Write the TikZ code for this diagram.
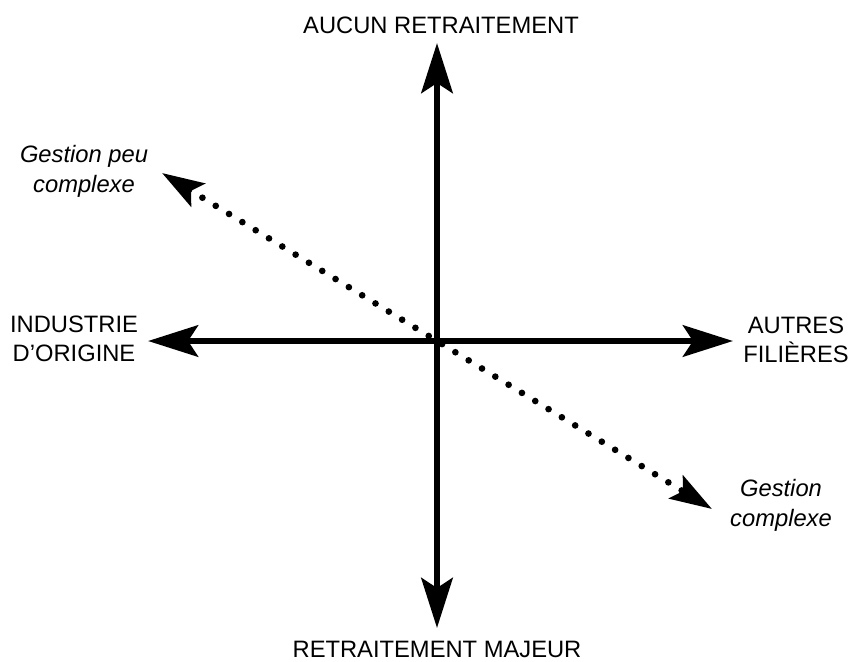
\documentclass[tikz,border=0pt]{standalone}
\usepackage{fontspec}
\setmainfont{Liberation Sans}
\usetikzlibrary{arrows.meta}
\begin{document}
\begin{tikzpicture}[x=0.75pt,y=-0.75pt,
  axis/.style={line width=4.9pt,
    {Stealth[length=37.5pt,width=23.5pt,inset=7.5pt]}-{Stealth[length=37.5pt,width=23.5pt,inset=7.5pt]}},
  dotline/.style={line width=5pt, line cap=round, dash pattern=on 0pt off 11.7pt,
    {Stealth[length=31.5pt,width=20pt,inset=6pt]}-{Stealth[length=31.5pt,width=20pt,inset=6pt]}},
  lbl/.style={font=\fontsize{17.8}{21.5}\selectfont, align=center, inner sep=0pt},
  ilbl/.style={font=\fontsize{17.8}{22.5}\selectfont\itshape, align=center, inner sep=0pt}]
\useasboundingbox (0,0) rectangle (853,661);
\coordinate (C) at (437,341);
\coordinate (N) at (437,43);
\coordinate (S) at (437,628);
\coordinate (W) at (148,341);
\coordinate (E) at (733,341);
\coordinate (DL) at (162,173);
\coordinate (DR) at (712,509);
\draw[axis] (N) -- (S);
\draw[axis] (W) -- (E);
\draw[dotline] (DL) -- (DR);
\node[lbl] (top) at (441,25) {AUCUN RETRAITEMENT};
\node[lbl] (bot) at (437,649) {RETRAITEMENT MAJEUR};
\node[lbl] (left) at (74,339) {INDUSTRIE\\D’ORIGINE};
\node[lbl] (right) at (796,340) {AUTRES\\FILIÈRES};
\node[ilbl] (gl) at (84,171) {Gestion peu\\complexe};
\node[ilbl] (gr) at (781,505) {Gestion\\complexe};
\end{tikzpicture}
\end{document}
